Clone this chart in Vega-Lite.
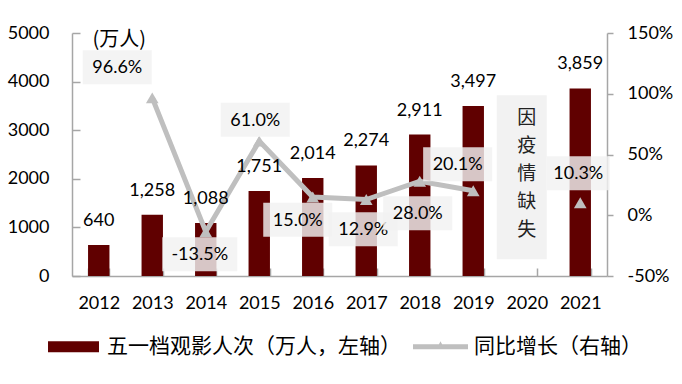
{
"$schema":"https://vega.github.io/schema/vega-lite/v6.json",
"width":535,"height":243,
"autosize":{"type":"none"},
"padding":{"left":72,"top":33,"right":75,"bottom":108},
"background":"white",
"config":{
 "view":{"stroke":null},
 "locale":{"number":{"decimal":".","thousands":",","grouping":[3],"currency":["$",""],"minus":"-"}},
 "axis":{"domainColor":"#A6A6A6","domainWidth":1.5,"tickColor":"#A6A6A6","tickWidth":1.5,"labelFont":"Lato","labelFontSize":18,"labelColor":"#000000","grid":false,"titleColor":"#000000"},
 "text":{"font":"Lato","fontSize":18,"color":"#000000"}
},
"data":{"values":[
 {"year":"2012","visits":640,"growth":null},
 {"year":"2013","visits":1258,"growth":0.966},
 {"year":"2014","visits":1088,"growth":-0.135},
 {"year":"2015","visits":1751,"growth":0.610},
 {"year":"2016","visits":2014,"growth":0.150},
 {"year":"2017","visits":2274,"growth":0.129},
 {"year":"2018","visits":2911,"growth":0.280},
 {"year":"2019","visits":3497,"growth":0.201},
 {"year":"2020","visits":null,"growth":null},
 {"year":"2021","visits":3859,"growth":0.103}
]},
"encoding":{"x":{"field":"year","type":"nominal","scale":{"domain":["2012","2013","2014","2015","2016","2017","2018","2019","2020","2021"],"paddingInner":0.6,"paddingOuter":0.3},"axis":{"title":null,"labelAngle":0,"tickBand":"extent","tickSize":-8,"labelPadding":26}}},
"layer":[
 {"mark":{"type":"bar","color":"#600000"},
  "encoding":{
   "y":{"field":"visits","type":"quantitative","scale":{"domain":[0,5000]},"axis":{"values":[0,1000,2000,3000,4000,5000],"format":"d","tickSize":-8,"labelPadding":31,"title":"(万人)","titleAngle":0,"titleX":20,"titleY":6,"titleAlign":"left","titleBaseline":"middle","titleFont":"Noto Sans CJK SC","titleFontSize":20,"titleFontWeight":"normal"}},
   "color":{"datum":"五一档观影人次（万人，左轴）","type":"nominal","scale":{"domain":["五一档观影人次（万人，左轴）","同比增长（右轴）"],"range":["#600000","#BFBFBF"]},
    "legend":{"orient":"none","legendX":-26,"legendY":286,"direction":"horizontal","title":null,"labelFont":"Noto Sans CJK SC","labelFontSize":21,"labelColor":"#000000","labelLimit":500,"symbolSize":3025,"labelOffset":6,"columnPadding":12,"padding":0,
     "encode":{"symbols":{"update":{
      "shape":{"signal":"datum.value === '同比增长（右轴）' ? 'M-1,-0.09H1V0.09H-1Z M-0.15,0.09L0,-0.2L0.15,0.09Z' : 'M-0.927,-0.2H0.927V0.2H-0.927Z'"},
      "fill":{"signal":"datum.value === '同比增长（右轴）' ? '#BFBFBF' : '#600000'"},
      "strokeWidth":{"value":0},"opacity":{"value":1}}}}}}
  }},
 {"layer":[
   {"mark":{"type":"line","strokeWidth":5},"transform":[{"filter":"datum.growth != null && datum.year != '2021'"}],
    "encoding":{"y":{"field":"growth","type":"quantitative","scale":{"domain":[-0.5,1.5],"nice":false,"zero":false},"axis":{"orient":"right","values":[-0.5,0,0.5,1,1.5],"format":".0%","tickSize":6,"labelPadding":14,"title":null}},"color":{"datum":"同比增长（右轴）","type":"nominal"}}},
   {"mark":{"type":"point","shape":"triangle-up","filled":true,"size":160,"color":"#BFBFBF","opacity":1},"transform":[{"filter":"datum.growth != null"}],
    "encoding":{"y":{"field":"growth","type":"quantitative","scale":{"domain":[-0.5,1.5]}}}},
   {"transform":[{"filter":"datum.year == '2020'"}],"layer":[
      {"mark":{"type":"point","shape":"M-0.305,-1H0.305V1H-0.305Z","size":26896,"filled":true,"color":"#F2F2F2","opacity":1,"xOffset":-5},"encoding":{"y":{"datum":0.313,"type":"quantitative","scale":{"domain":[-0.5,1.5]}}}},
      {"mark":{"type":"text","font":"Noto Sans CJK SC","fontSize":19,"baseline":"middle","color":"#222222","yOffset":-56},"encoding":{"y":{"datum":0.337,"type":"quantitative","scale":{"domain":[-0.5,1.5]}},"text":{"value":"因"}}},
      {"mark":{"type":"text","font":"Noto Sans CJK SC","fontSize":19,"baseline":"middle","color":"#222222","yOffset":-28},"encoding":{"y":{"datum":0.337,"type":"quantitative","scale":{"domain":[-0.5,1.5]}},"text":{"value":"疫"}}},
      {"mark":{"type":"text","font":"Noto Sans CJK SC","fontSize":19,"baseline":"middle","color":"#222222","yOffset":0},"encoding":{"y":{"datum":0.337,"type":"quantitative","scale":{"domain":[-0.5,1.5]}},"text":{"value":"情"}}},
      {"mark":{"type":"text","font":"Noto Sans CJK SC","fontSize":19,"baseline":"middle","color":"#222222","yOffset":28},"encoding":{"y":{"datum":0.337,"type":"quantitative","scale":{"domain":[-0.5,1.5]}},"text":{"value":"缺"}}},
      {"mark":{"type":"text","font":"Noto Sans CJK SC","fontSize":19,"baseline":"middle","color":"#222222","yOffset":56},"encoding":{"y":{"datum":0.337,"type":"quantitative","scale":{"domain":[-0.5,1.5]}},"text":{"value":"失"}}}
   ]},
   {"transform":[{"filter":"datum.year == '2013'"}],"encoding":{"y":{"field":"growth","type":"quantitative","scale":{"domain":[-0.5,1.5]}}},"layer":[
      {"mark":{"type":"point","shape":"M-2.03,-1H2.03V1H-2.03Z","size":1156,"filled":true,"color":"#F2F2F2","opacity":0.82,"xOffset":-35,"yOffset":-30.6}},
      {"mark":{"type":"text","baseline":"middle","xOffset":-35,"yOffset":-29.6},"encoding":{"text":{"field":"growth","type":"quantitative","format":".1%"}}}
   ]},
   {"transform":[{"filter":"datum.year == '2014'"}],"encoding":{"y":{"field":"growth","type":"quantitative","scale":{"domain":[-0.5,1.5]}}},"layer":[
      {"mark":{"type":"point","shape":"M-2.206,-1H2.206V1H-2.206Z","size":1156,"filled":true,"color":"#F2F2F2","opacity":0.82,"xOffset":-6,"yOffset":22.6}},
      {"mark":{"type":"text","baseline":"middle","xOffset":-6,"yOffset":23.6},"encoding":{"text":{"field":"growth","type":"quantitative","format":".1%"}}}
   ]},
   {"transform":[{"filter":"datum.year == '2015'"}],"encoding":{"y":{"field":"growth","type":"quantitative","scale":{"domain":[-0.5,1.5]}}},"layer":[
      {"mark":{"type":"point","shape":"M-2.03,-1H2.03V1H-2.03Z","size":1156,"filled":true,"color":"#F2F2F2","opacity":0.82,"xOffset":-4,"yOffset":-21.4}},
      {"mark":{"type":"text","baseline":"middle","xOffset":-4,"yOffset":-20.4},"encoding":{"text":{"field":"growth","type":"quantitative","format":".1%"}}}
   ]},
   {"transform":[{"filter":"datum.year == '2016'"}],"encoding":{"y":{"field":"growth","type":"quantitative","scale":{"domain":[-0.5,1.5]}}},"layer":[
      {"mark":{"type":"point","shape":"M-2.03,-1H2.03V1H-2.03Z","size":1156,"filled":true,"color":"#F2F2F2","opacity":0.82,"xOffset":-15,"yOffset":22.7}},
      {"mark":{"type":"text","baseline":"middle","xOffset":-15,"yOffset":23.7},"encoding":{"text":{"field":"growth","type":"quantitative","format":".1%"}}}
   ]},
   {"transform":[{"filter":"datum.year == '2017'"}],"encoding":{"y":{"field":"growth","type":"quantitative","scale":{"domain":[-0.5,1.5]}}},"layer":[
      {"mark":{"type":"point","shape":"M-2.03,-1H2.03V1H-2.03Z","size":1156,"filled":true,"color":"#F2F2F2","opacity":0.82,"xOffset":-3,"yOffset":29.7}},
      {"mark":{"type":"text","baseline":"middle","xOffset":-3,"yOffset":30.7},"encoding":{"text":{"field":"growth","type":"quantitative","format":".1%"}}}
   ]},
   {"transform":[{"filter":"datum.year == '2018'"}],"encoding":{"y":{"field":"growth","type":"quantitative","scale":{"domain":[-0.5,1.5]}}},"layer":[
      {"mark":{"type":"point","shape":"M-2.03,-1H2.03V1H-2.03Z","size":1156,"filled":true,"color":"#F2F2F2","opacity":0.82,"xOffset":-2,"yOffset":32}},
      {"mark":{"type":"text","baseline":"middle","xOffset":-2,"yOffset":33},"encoding":{"text":{"field":"growth","type":"quantitative","format":".1%"}}}
   ]},
   {"transform":[{"filter":"datum.year == '2019'"}],"encoding":{"y":{"field":"growth","type":"quantitative","scale":{"domain":[-0.5,1.5]}}},"layer":[
      {"mark":{"type":"point","shape":"M-2.03,-1H2.03V1H-2.03Z","size":1156,"filled":true,"color":"#F2F2F2","opacity":0.82,"xOffset":-15.6,"yOffset":-26.6}},
      {"mark":{"type":"text","baseline":"middle","xOffset":-15.6,"yOffset":-25.6},"encoding":{"text":{"field":"growth","type":"quantitative","format":".1%"}}}
   ]},
   {"transform":[{"filter":"datum.year == '2021'"}],"encoding":{"y":{"field":"growth","type":"quantitative","scale":{"domain":[-0.5,1.5]}}},"layer":[
      {"mark":{"type":"point","shape":"M-1.853,-1H1.853V1H-1.853Z","size":1156,"filled":true,"color":"#F2F2F2","opacity":0.82,"xOffset":-2,"yOffset":-29.5}},
      {"mark":{"type":"text","baseline":"middle","xOffset":-2,"yOffset":-28.5},"encoding":{"text":{"field":"growth","type":"quantitative","format":".1%"}}}
   ]}
  ]},
 {"mark":{"type":"text","dy":-24,"baseline":"middle"},
  "encoding":{"y":{"field":"visits","type":"quantitative","scale":{"domain":[0,5000]},"axis":null},"text":{"field":"visits","type":"quantitative","format":","}}}
],
"resolve":{"scale":{"y":"independent"}}
}
